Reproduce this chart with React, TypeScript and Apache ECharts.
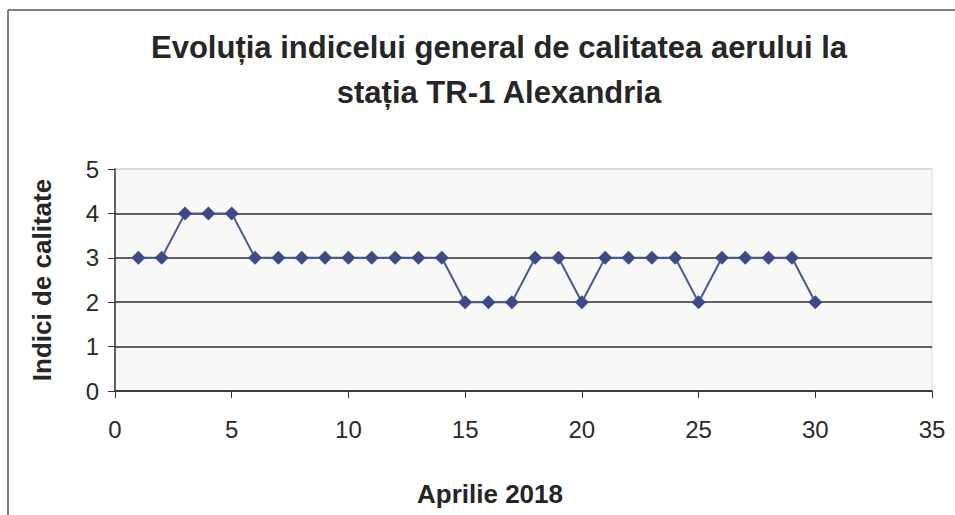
import React, { useEffect, useRef } from "react";
import * as echarts from "echarts";

const titleLines = ["Evoluția indicelui general de calitatea aerului la", "stația TR-1 Alexandria"];
const xAxisName = "Aprilie 2018";
const yAxisName = "Indici de calitate";
const days = [1, 2, 3, 4, 5, 6, 7, 8, 9, 10, 11, 12, 13, 14, 15, 16, 17, 18, 19, 20, 21, 22, 23, 24, 25, 26, 27, 28, 29, 30];
const indices = [3, 3, 4, 4, 4, 3, 3, 3, 3, 3, 3, 3, 3, 3, 2, 2, 2, 3, 3, 2, 3, 3, 3, 3, 2, 3, 3, 3, 3, 2];

const FONT = "'Liberation Sans', Arial, sans-serif";

export default function App() {
  const ref = useRef<HTMLDivElement>(null);
  useEffect(() => {
    if (!ref.current) return;
    const chart = echarts.init(ref.current, null, { renderer: "svg" });
    chart.setOption({
      animation: false,
      backgroundColor: "#ffffff",
      title: {
        text: titleLines.join("\n"),
        left: 494,
        top: 20,
        textAlign: "center",
        textStyle: {
          fontFamily: FONT,
          fontWeight: "bold",
          fontSize: 31,
          lineHeight: 45,
          color: "#262626",
        },
      },
      graphic: [
        { type: "line", shape: { x1: 8, y1: 10, x2: 8, y2: 515 }, style: { stroke: "#555", lineWidth: 1.5 } },
        { type: "line", shape: { x1: 8, y1: 10, x2: 955, y2: 10 }, style: { stroke: "#555", lineWidth: 1.5 } },
      ],
      grid: {
        left: 115,
        right: 23,
        top: 169,
        bottom: 124,
        show: true,
        backgroundColor: "#f8f8f6",
        borderColor: "#e6d2d6",
        borderWidth: 1,
      },
      xAxis: {
        type: "value",
        min: 0,
        max: 35,
        interval: 5,
        name: xAxisName,
        nameLocation: "middle",
        nameGap: 90,
        nameTextStyle: {
          fontFamily: FONT,
          fontWeight: "bold",
          fontSize: 26,
          color: "#262626",
          padding: [0, 67, 0, 0],
        },
        axisLine: { show: true, lineStyle: { color: "#333", width: 1.5 } },
        axisTick: { show: true, length: 7, inside: false, lineStyle: { color: "#333" } },
        axisLabel: { fontFamily: FONT, fontSize: 24, color: "#2a2a2a", margin: 26 },
        splitLine: { show: false },
      },
      yAxis: {
        type: "value",
        min: 0,
        max: 5,
        interval: 1,
        name: yAxisName,
        nameLocation: "middle",
        nameGap: 60,
        nameTextStyle: {
          fontFamily: FONT,
          fontWeight: "bold",
          fontSize: 26,
          color: "#262626",
        },
        axisLine: { show: true, lineStyle: { color: "#333", width: 1.5 } },
        axisTick: { show: true, length: 7, inside: false, lineStyle: { color: "#333" } },
        axisLabel: { fontFamily: FONT, fontSize: 24, color: "#2a2a2a", margin: 16 },
        splitLine: {
          show: true,
          lineStyle: {
            color: ["#333", "#2e2e3c", "#2e2e3c", "#2e2e3c", "#2e2e3c", "#e6d2d6"],
            width: 1.5,
          },
        },
      },
      series: [
        {
          type: "line",
          data: days.map((d, i) => [d, indices[i]]),
          symbol: "diamond",
          symbolSize: 14,
          itemStyle: { color: "#3c4a8a" },
          lineStyle: { color: "#4a5896", width: 2 },
        },
      ],
    });
    return () => chart.dispose();
  }, []);
  return <div ref={ref} style={{ width: 955, height: 515, position: "absolute", left: 0, top: 0 }} />;
}
